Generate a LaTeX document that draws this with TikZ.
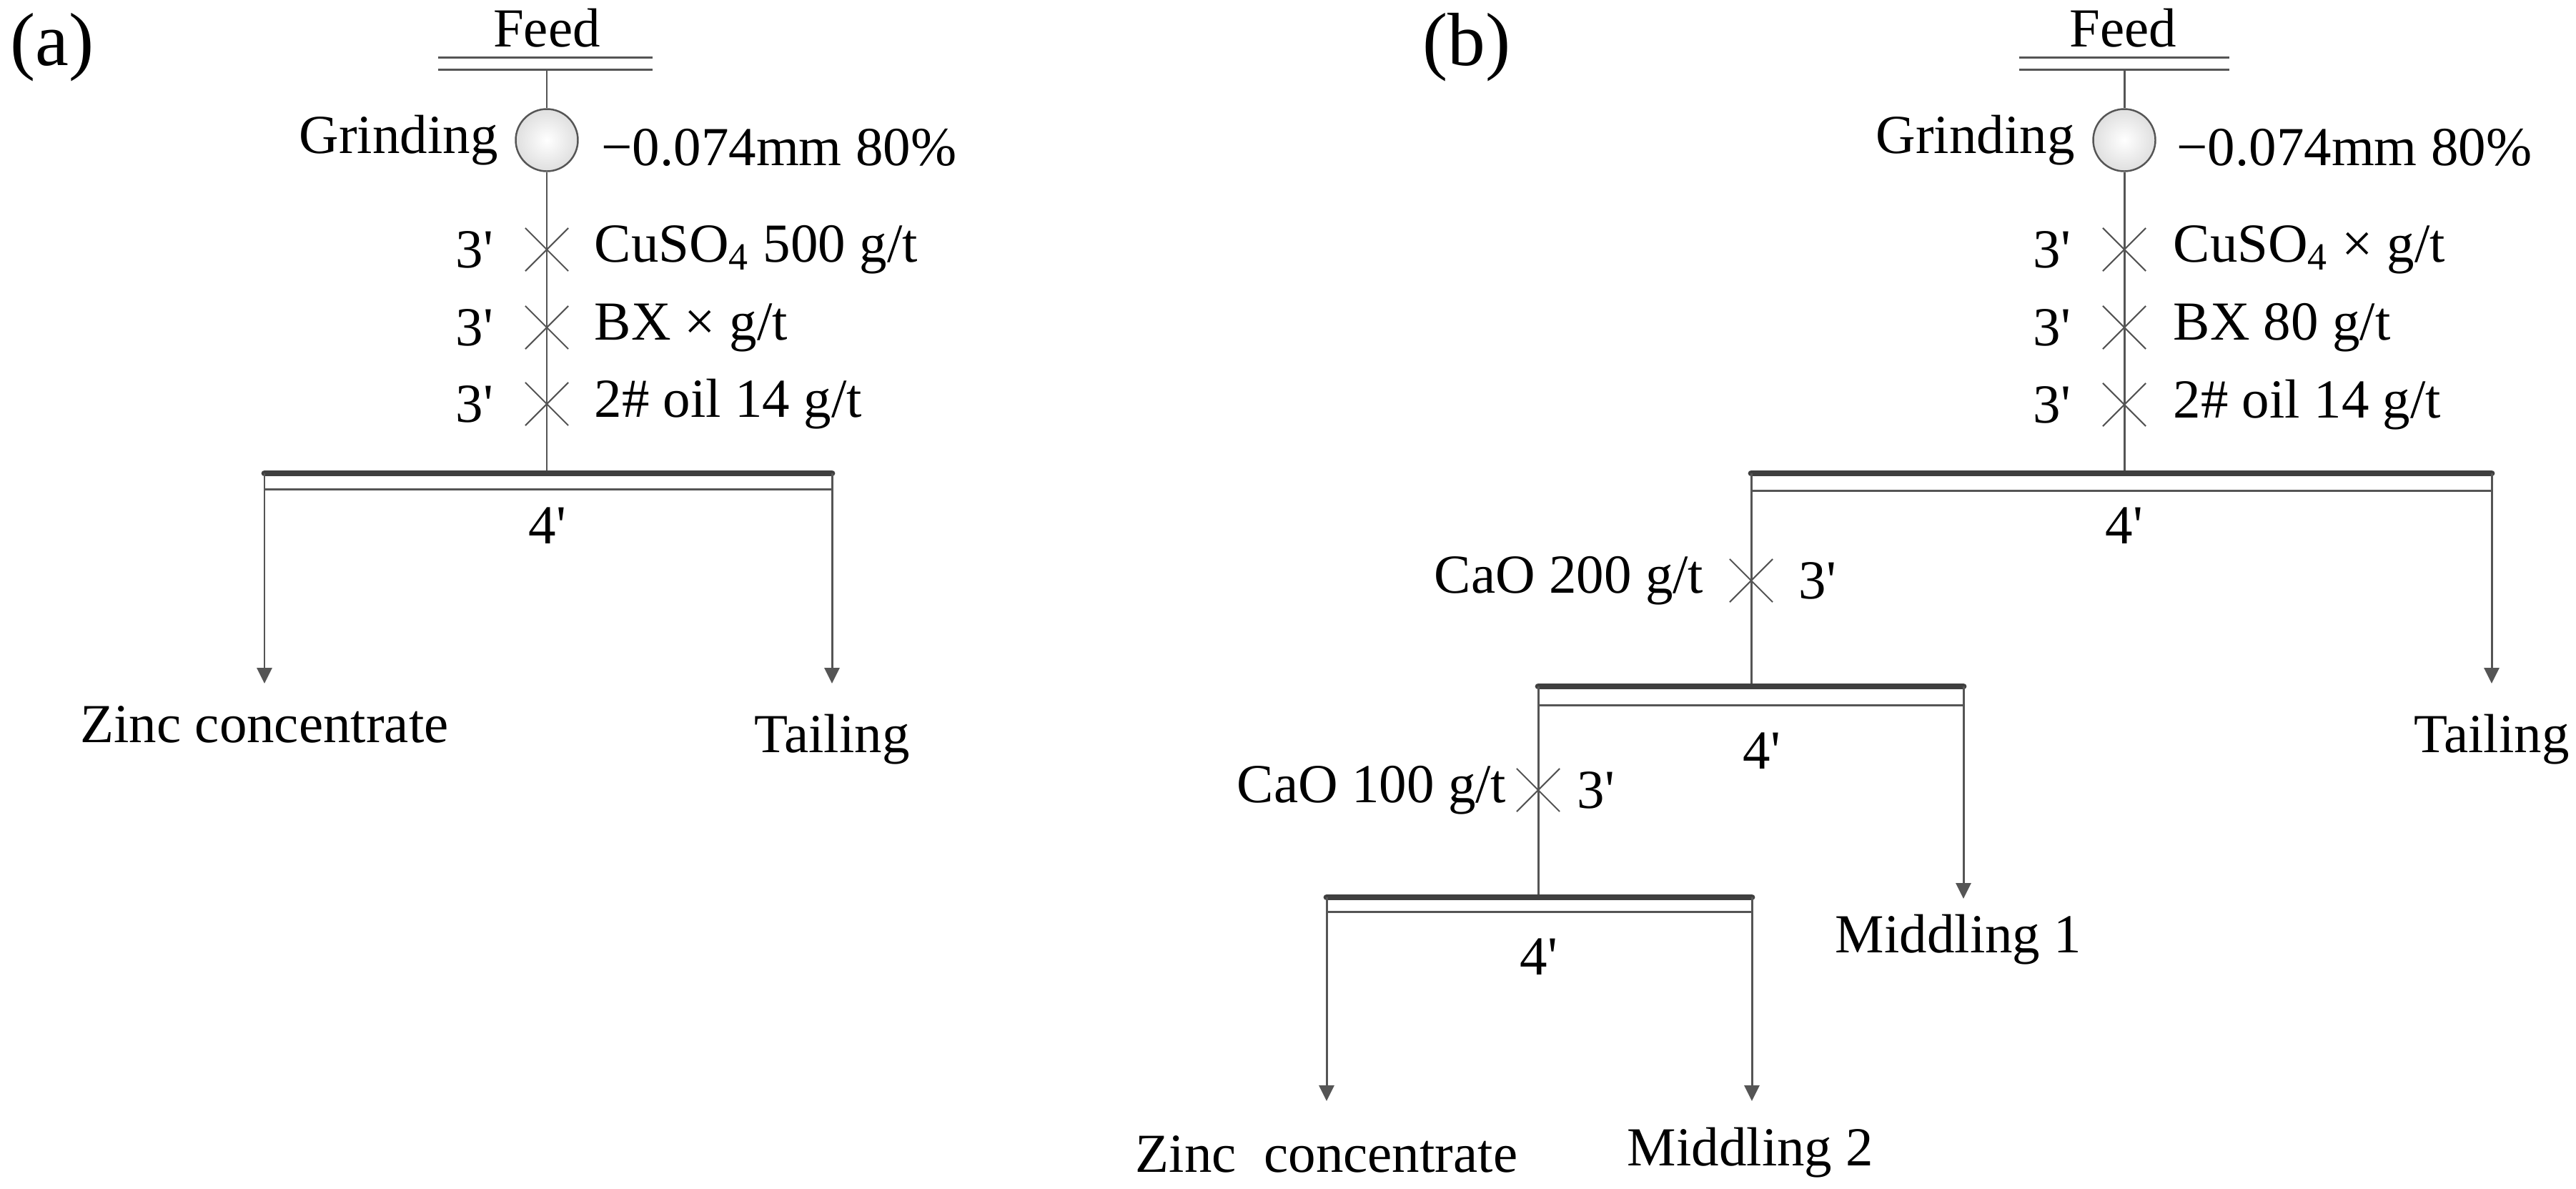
\documentclass[tikz,border=0pt]{standalone}
\usepackage{fontspec}
\setmainfont{Liberation Serif}
\usetikzlibrary{arrows.meta, positioning, shapes.misc}
\definecolor{cline}{HTML}{555555}
\definecolor{cbar}{HTML}{3F3F3F}
\newcommand{\primemark}{\textquotesingle}
\tikzset{
  every picture/.style={font=\fontsize{21.9}{26}\selectfont},
  flow/.style={draw=cline, line width=0.85pt},
  arrow/.style={flow, -{Triangle[length=0.22cm, width=0.21cm]}},
  cell/.style={draw=cbar, line width=2.5pt, line cap=round},
  floor/.style={draw=cline, line width=0.85pt},
  mill/.style={circle, draw=cline, line width=0.7pt, inner sep=0pt, minimum size=0.87cm,
    shading=radial, inner color=white, outer color=gray!25},
  dose/.style={cross out, draw=cline, line width=0.6pt, inner sep=0pt, minimum size=0.58cm},
  lbl/.style={inner sep=0pt},
  title/.style={inner sep=0pt, font=\fontsize{30}{34}\selectfont},
}

\begin{document}
\begin{tikzpicture}
  \useasboundingbox (0,0) rectangle (36.04,-16.62);
  % (a) one flotation
  \node[title] (ta) at (0.73,-0.66) {(a)};
  \node[lbl] (feedA) at (7.65,-0.39) {Feed};
  \coordinate (fA) at (7.65,-0.97);
  \draw[floor] (6.13,-0.80) -- (9.13,-0.80) (6.13,-0.97) -- (9.13,-0.97);
  \node[mill] (gA) at (7.65,-1.96) {};
  \node[lbl, left=0.23cm of gA] (gAl) {Grinding};
  \node[lbl, right=0.31cm of gA, yshift=-0.1cm] (gAr) {−0.074mm 80\%};
  \foreach \y/\n in {3.49/1, 4.58/2, 5.65/3}
    \node[dose] (xA\n) at (7.65,-\y) {};
  \node[lbl, left=0.44cm of xA1] (mA1) {3\primemark};
  \node[lbl, left=0.44cm of xA2] (mA2) {3\primemark};
  \node[lbl, left=0.44cm of xA3] (mA3) {3\primemark};
  \node[lbl, right=0.36cm of xA1] (rA1) {CuSO\textsubscript{4} 500 g/t};
  \node[lbl, right=0.36cm of xA2] (rA2) {BX × g/t};
  \node[lbl, right=0.36cm of xA3] (rA3) {2\# oil 14 g/t};
  \coordinate (aL) at (3.70,-6.62);
  \coordinate (aR) at (11.64,-6.62);
  \coordinate (aM) at (7.65,-6.62);
  \draw[flow] (fA) -- (gA) -- (aM);
  \draw[cell] (aL) -- (aR);
  \draw[floor] (3.70,-6.84) -- (11.64,-6.84);
  \node[lbl] (fourA) at (7.66,-7.35) {4\primemark};
  \coordinate (aLo) at (3.70,-9.56);
  \coordinate (aRo) at (11.64,-9.56);
  \draw[arrow] (aL) -- (aLo);
  \draw[arrow] (aR) -- (aRo);
  \node[lbl, anchor=base] (zA) at (3.70,-10.38) {Zinc concentrate};
  \node[lbl, anchor=base] (tA) at (11.64,-10.52) {Tailing};

  % (b) rougher and two cleanings
  \node[title] (tb) at (20.52,-0.66) {(b)};
  \node[lbl] (feedB) at (29.70,-0.39) {Feed};
  \coordinate (fB) at (29.72,-0.97);
  \draw[floor] (28.25,-0.80) -- (31.19,-0.80) (28.25,-0.97) -- (31.19,-0.97);
  \node[mill] (gB) at (29.72,-1.96) {};
  \node[lbl, left=0.24cm of gB] (gBl) {Grinding};
  \node[lbl, right=0.28cm of gB, yshift=-0.1cm] (gBr) {−0.074mm 80\%};
  \foreach \y/\n in {3.49/1, 4.58/2, 5.66/3}
    \node[dose] (xB\n) at (29.72,-\y) {};
  \node[lbl, left=0.44cm of xB1] (mB1) {3\primemark};
  \node[lbl, left=0.44cm of xB2] (mB2) {3\primemark};
  \node[lbl, left=0.44cm of xB3] (mB3) {3\primemark};
  \node[lbl, right=0.38cm of xB1] (rB1) {CuSO\textsubscript{4} × g/t};
  \node[lbl, right=0.38cm of xB2] (rB2) {BX 80 g/t};
  \node[lbl, right=0.38cm of xB3] (rB3) {2\# oil 14 g/t};
  \coordinate (bL) at (24.50,-6.62);
  \coordinate (bR) at (34.86,-6.62);
  \coordinate (bM) at (29.72,-6.62);
  \draw[flow] (fB) -- (gB) -- (bM);
  \draw[cell] (bL) -- (bR);
  \draw[floor] (24.50,-6.86) -- (34.86,-6.86);
  \node[lbl] (fourB1) at (29.72,-7.35) {4\primemark};
  \coordinate (bRo) at (34.86,-9.56);
  \draw[arrow] (bR) -- (bRo);
  \node[lbl, anchor=base] (tB) at (34.86,-10.52) {Tailing};
  % first cleaning
  \node[dose] (xB4) at (24.50,-8.12) {};
  \node[lbl, left=0.36cm of xB4] (rB4) {CaO 200 g/t};
  \node[lbl, right=0.36cm of xB4] (mB4) {3\primemark};
  \coordinate (cL) at (21.52,-9.60);
  \coordinate (cR) at (27.47,-9.60);
  \coordinate (cM) at (24.50,-9.60);
  \draw[flow] (bL) -- (cM);
  \draw[cell] (cL) -- (cR);
  \draw[floor] (21.52,-9.86) -- (27.47,-9.86);
  \node[lbl] (fourB2) at (24.65,-10.50) {4\primemark};
  \coordinate (cRo) at (27.47,-12.57);
  \draw[arrow] (cR) -- (cRo);
  \node[lbl, anchor=base] (m1) at (27.40,-13.32) {Middling 1};
  % second cleaning
  \node[dose] (xB5) at (21.52,-11.05) {};
  \node[lbl, left=0.14cm of xB5] (rB5) {CaO 100 g/t};
  \node[lbl, right=0.24cm of xB5] (mB5) {3\primemark};
  \coordinate (dL) at (18.56,-12.55);
  \coordinate (dR) at (24.51,-12.55);
  \coordinate (dM) at (21.52,-12.55);
  \draw[flow] (cL) -- (dM);
  \draw[cell] (dL) -- (dR);
  \draw[floor] (18.56,-12.75) -- (24.51,-12.75);
  \node[lbl] (fourB3) at (21.53,-13.38) {4\primemark};
  \coordinate (dLo) at (18.56,-15.40);
  \coordinate (dRo) at (24.51,-15.40);
  \draw[arrow] (dL) -- (dLo);
  \draw[arrow] (dR) -- (dRo);
  \node[lbl, anchor=base] (zB) at (18.56,-16.39) {Zinc\ \ concentrate};
  \node[lbl, anchor=base] (m2) at (24.49,-16.30) {Middling 2};
\end{tikzpicture}
\end{document}
